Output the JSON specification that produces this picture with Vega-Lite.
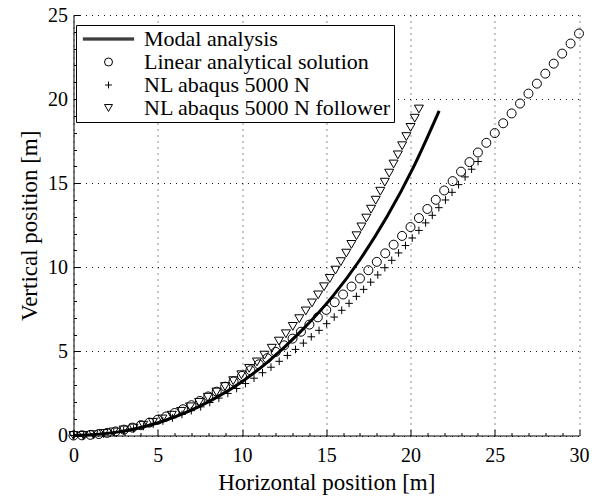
{
  "$schema": "https://vega.github.io/schema/vega-lite/v6.json",
  "width": 505.5,
  "height": 420.5,
  "autosize": {"type": "none"},
  "padding": {"left": 73.5, "top": 15, "right": 20, "bottom": 62.5},
  "background": "white",
  "config": {"view": {"stroke": null}, "font": "Liberation Serif"},
  "datasets": {
    "modal": [
      {"x": 0, "y": 0}, {"x": 2.6, "y": 0.2}, {"x": 5.3, "y": 0.85}, {"x": 8.2, "y": 2.1},
      {"x": 10, "y": 3.2}, {"x": 11.5, "y": 4.35}, {"x": 13.4, "y": 6.1}, {"x": 15.4, "y": 8.3},
      {"x": 17.0, "y": 10.45}, {"x": 18.6, "y": 13.0}, {"x": 20.2, "y": 16.0}, {"x": 21.7, "y": 19.3}
    ],
    "pts": [
      {"s": "Linear analytical solution", "x": 0, "y": 0},
      {"s": "Linear analytical solution", "x": 0.5, "y": 0.01},
      {"s": "Linear analytical solution", "x": 1, "y": 0.039},
      {"s": "Linear analytical solution", "x": 1.5, "y": 0.088},
      {"s": "Linear analytical solution", "x": 2, "y": 0.156},
      {"s": "Linear analytical solution", "x": 2.5, "y": 0.242},
      {"s": "Linear analytical solution", "x": 3, "y": 0.347},
      {"s": "Linear analytical solution", "x": 3.5, "y": 0.469},
      {"s": "Linear analytical solution", "x": 4, "y": 0.609},
      {"s": "Linear analytical solution", "x": 4.5, "y": 0.766},
      {"s": "Linear analytical solution", "x": 5, "y": 0.941},
      {"s": "Linear analytical solution", "x": 5.5, "y": 1.131},
      {"s": "Linear analytical solution", "x": 6, "y": 1.338},
      {"s": "Linear analytical solution", "x": 6.5, "y": 1.561},
      {"s": "Linear analytical solution", "x": 7, "y": 1.8},
      {"s": "Linear analytical solution", "x": 7.5, "y": 2.054},
      {"s": "Linear analytical solution", "x": 8, "y": 2.323},
      {"s": "Linear analytical solution", "x": 8.5, "y": 2.606},
      {"s": "Linear analytical solution", "x": 9, "y": 2.904},
      {"s": "Linear analytical solution", "x": 9.5, "y": 3.216},
      {"s": "Linear analytical solution", "x": 10, "y": 3.541},
      {"s": "Linear analytical solution", "x": 10.5, "y": 3.879},
      {"s": "Linear analytical solution", "x": 11, "y": 4.231},
      {"s": "Linear analytical solution", "x": 11.5, "y": 4.595},
      {"s": "Linear analytical solution", "x": 12, "y": 4.971},
      {"s": "Linear analytical solution", "x": 12.5, "y": 5.359},
      {"s": "Linear analytical solution", "x": 13, "y": 5.759},
      {"s": "Linear analytical solution", "x": 13.5, "y": 6.171},
      {"s": "Linear analytical solution", "x": 14, "y": 6.593},
      {"s": "Linear analytical solution", "x": 14.5, "y": 7.026},
      {"s": "Linear analytical solution", "x": 15, "y": 7.469},
      {"s": "Linear analytical solution", "x": 15.5, "y": 7.922},
      {"s": "Linear analytical solution", "x": 16, "y": 8.384},
      {"s": "Linear analytical solution", "x": 16.5, "y": 8.856},
      {"s": "Linear analytical solution", "x": 17, "y": 9.337},
      {"s": "Linear analytical solution", "x": 17.5, "y": 9.827},
      {"s": "Linear analytical solution", "x": 18, "y": 10.325},
      {"s": "Linear analytical solution", "x": 18.5, "y": 10.831},
      {"s": "Linear analytical solution", "x": 19, "y": 11.344},
      {"s": "Linear analytical solution", "x": 19.5, "y": 11.865},
      {"s": "Linear analytical solution", "x": 20, "y": 12.393},
      {"s": "Linear analytical solution", "x": 20.5, "y": 12.927},
      {"s": "Linear analytical solution", "x": 21, "y": 13.468},
      {"s": "Linear analytical solution", "x": 21.5, "y": 14.014},
      {"s": "Linear analytical solution", "x": 22, "y": 14.567},
      {"s": "Linear analytical solution", "x": 22.5, "y": 15.124},
      {"s": "Linear analytical solution", "x": 23, "y": 15.687},
      {"s": "Linear analytical solution", "x": 23.5, "y": 16.254},
      {"s": "Linear analytical solution", "x": 24, "y": 16.826},
      {"s": "Linear analytical solution", "x": 24.5, "y": 17.401},
      {"s": "Linear analytical solution", "x": 25, "y": 17.98},
      {"s": "Linear analytical solution", "x": 25.5, "y": 18.563},
      {"s": "Linear analytical solution", "x": 26, "y": 19.148},
      {"s": "Linear analytical solution", "x": 26.5, "y": 19.736},
      {"s": "Linear analytical solution", "x": 27, "y": 20.327},
      {"s": "Linear analytical solution", "x": 27.5, "y": 20.919},
      {"s": "Linear analytical solution", "x": 28, "y": 21.514},
      {"s": "Linear analytical solution", "x": 28.5, "y": 22.109},
      {"s": "Linear analytical solution", "x": 29, "y": 22.705},
      {"s": "Linear analytical solution", "x": 29.5, "y": 23.303},
      {"s": "Linear analytical solution", "x": 30, "y": 23.9},
      {"s": "NL abaqus 5000 N", "x": 0, "y": 0},
      {"s": "NL abaqus 5000 N", "x": 0.6, "y": 0.011},
      {"s": "NL abaqus 5000 N", "x": 1.199, "y": 0.046},
      {"s": "NL abaqus 5000 N", "x": 1.797, "y": 0.103},
      {"s": "NL abaqus 5000 N", "x": 2.389, "y": 0.187},
      {"s": "NL abaqus 5000 N", "x": 2.979, "y": 0.284},
      {"s": "NL abaqus 5000 N", "x": 3.567, "y": 0.393},
      {"s": "NL abaqus 5000 N", "x": 4.149, "y": 0.537},
      {"s": "NL abaqus 5000 N", "x": 4.731, "y": 0.68},
      {"s": "NL abaqus 5000 N", "x": 5.303, "y": 0.862},
      {"s": "NL abaqus 5000 N", "x": 5.872, "y": 1.048},
      {"s": "NL abaqus 5000 N", "x": 6.436, "y": 1.253},
      {"s": "NL abaqus 5000 N", "x": 6.992, "y": 1.477},
      {"s": "NL abaqus 5000 N", "x": 7.548, "y": 1.702},
      {"s": "NL abaqus 5000 N", "x": 8.088, "y": 1.963},
      {"s": "NL abaqus 5000 N", "x": 8.627, "y": 2.224},
      {"s": "NL abaqus 5000 N", "x": 9.159, "y": 2.501},
      {"s": "NL abaqus 5000 N", "x": 9.682, "y": 2.794},
      {"s": "NL abaqus 5000 N", "x": 10.205, "y": 3.088},
      {"s": "NL abaqus 5000 N", "x": 10.713, "y": 3.407},
      {"s": "NL abaqus 5000 N", "x": 11.218, "y": 3.732},
      {"s": "NL abaqus 5000 N", "x": 11.72, "y": 4.059},
      {"s": "NL abaqus 5000 N", "x": 12.207, "y": 4.41},
      {"s": "NL abaqus 5000 N", "x": 12.693, "y": 4.76},
      {"s": "NL abaqus 5000 N", "x": 13.174, "y": 5.118},
      {"s": "NL abaqus 5000 N", "x": 13.642, "y": 5.493},
      {"s": "NL abaqus 5000 N", "x": 14.111, "y": 5.869},
      {"s": "NL abaqus 5000 N", "x": 14.572, "y": 6.251},
      {"s": "NL abaqus 5000 N", "x": 15.023, "y": 6.647},
      {"s": "NL abaqus 5000 N", "x": 15.473, "y": 7.043},
      {"s": "NL abaqus 5000 N", "x": 15.918, "y": 7.443},
      {"s": "NL abaqus 5000 N", "x": 16.353, "y": 7.858},
      {"s": "NL abaqus 5000 N", "x": 16.788, "y": 8.273},
      {"s": "NL abaqus 5000 N", "x": 17.219, "y": 8.688},
      {"s": "NL abaqus 5000 N", "x": 17.638, "y": 9.117},
      {"s": "NL abaqus 5000 N", "x": 18.058, "y": 9.546},
      {"s": "NL abaqus 5000 N", "x": 18.478, "y": 9.975},
      {"s": "NL abaqus 5000 N", "x": 18.887, "y": 10.415},
      {"s": "NL abaqus 5000 N", "x": 19.293, "y": 10.855},
      {"s": "NL abaqus 5000 N", "x": 19.701, "y": 11.296},
      {"s": "NL abaqus 5000 N", "x": 20.103, "y": 11.742},
      {"s": "NL abaqus 5000 N", "x": 20.499, "y": 12.191},
      {"s": "NL abaqus 5000 N", "x": 20.897, "y": 12.641},
      {"s": "NL abaqus 5000 N", "x": 21.293, "y": 13.091},
      {"s": "NL abaqus 5000 N", "x": 21.683, "y": 13.546},
      {"s": "NL abaqus 5000 N", "x": 22.074, "y": 14.003},
      {"s": "NL abaqus 5000 N", "x": 22.464, "y": 14.458},
      {"s": "NL abaqus 5000 N", "x": 22.852, "y": 14.915},
      {"s": "NL abaqus 5000 N", "x": 23.239, "y": 15.374},
      {"s": "NL abaqus 5000 N", "x": 23.626, "y": 15.832},
      {"s": "NL abaqus 5000 N", "x": 24.01, "y": 16.288},
      {"s": "NL abaqus 5000 N follower", "x": 0, "y": 0},
      {"s": "NL abaqus 5000 N follower", "x": 0.592, "y": 0.01},
      {"s": "NL abaqus 5000 N follower", "x": 1.19, "y": 0.05},
      {"s": "NL abaqus 5000 N follower", "x": 1.789, "y": 0.12},
      {"s": "NL abaqus 5000 N follower", "x": 2.383, "y": 0.21},
      {"s": "NL abaqus 5000 N follower", "x": 2.971, "y": 0.327},
      {"s": "NL abaqus 5000 N follower", "x": 3.561, "y": 0.444},
      {"s": "NL abaqus 5000 N follower", "x": 4.135, "y": 0.613},
      {"s": "NL abaqus 5000 N follower", "x": 4.71, "y": 0.783},
      {"s": "NL abaqus 5000 N follower", "x": 5.274, "y": 0.983},
      {"s": "NL abaqus 5000 N follower", "x": 5.832, "y": 1.207},
      {"s": "NL abaqus 5000 N follower", "x": 6.386, "y": 1.437},
      {"s": "NL abaqus 5000 N follower", "x": 6.921, "y": 1.705},
      {"s": "NL abaqus 5000 N follower", "x": 7.457, "y": 1.972},
      {"s": "NL abaqus 5000 N follower", "x": 7.974, "y": 2.274},
      {"s": "NL abaqus 5000 N follower", "x": 8.487, "y": 2.585},
      {"s": "NL abaqus 5000 N follower", "x": 8.989, "y": 2.912},
      {"s": "NL abaqus 5000 N follower", "x": 9.478, "y": 3.26},
      {"s": "NL abaqus 5000 N follower", "x": 9.964, "y": 3.612},
      {"s": "NL abaqus 5000 N follower", "x": 10.426, "y": 3.993},
      {"s": "NL abaqus 5000 N follower", "x": 10.888, "y": 4.373},
      {"s": "NL abaqus 5000 N follower", "x": 11.331, "y": 4.778},
      {"s": "NL abaqus 5000 N follower", "x": 11.768, "y": 5.189},
      {"s": "NL abaqus 5000 N follower", "x": 12.194, "y": 5.612},
      {"s": "NL abaqus 5000 N follower", "x": 12.605, "y": 6.048},
      {"s": "NL abaqus 5000 N follower", "x": 13.013, "y": 6.487},
      {"s": "NL abaqus 5000 N follower", "x": 13.4, "y": 6.946},
      {"s": "NL abaqus 5000 N follower", "x": 13.787, "y": 7.405},
      {"s": "NL abaqus 5000 N follower", "x": 14.154, "y": 7.88},
      {"s": "NL abaqus 5000 N follower", "x": 14.518, "y": 8.357},
      {"s": "NL abaqus 5000 N follower", "x": 14.868, "y": 8.843},
      {"s": "NL abaqus 5000 N follower", "x": 15.21, "y": 9.336},
      {"s": "NL abaqus 5000 N follower", "x": 15.546, "y": 9.833},
      {"s": "NL abaqus 5000 N follower", "x": 15.867, "y": 10.337},
      {"s": "NL abaqus 5000 N follower", "x": 16.189, "y": 10.842},
      {"s": "NL abaqus 5000 N follower", "x": 16.493, "y": 11.36},
      {"s": "NL abaqus 5000 N follower", "x": 16.796, "y": 11.877},
      {"s": "NL abaqus 5000 N follower", "x": 17.089, "y": 12.401},
      {"s": "NL abaqus 5000 N follower", "x": 17.378, "y": 12.927},
      {"s": "NL abaqus 5000 N follower", "x": 17.66, "y": 13.456},
      {"s": "NL abaqus 5000 N follower", "x": 17.935, "y": 13.989},
      {"s": "NL abaqus 5000 N follower", "x": 18.209, "y": 14.522},
      {"s": "NL abaqus 5000 N follower", "x": 18.473, "y": 15.061},
      {"s": "NL abaqus 5000 N follower", "x": 18.737, "y": 15.599},
      {"s": "NL abaqus 5000 N follower", "x": 18.995, "y": 16.141},
      {"s": "NL abaqus 5000 N follower", "x": 19.251, "y": 16.684},
      {"s": "NL abaqus 5000 N follower", "x": 19.504, "y": 17.228},
      {"s": "NL abaqus 5000 N follower", "x": 19.754, "y": 17.772},
      {"s": "NL abaqus 5000 N follower", "x": 20.004, "y": 18.318},
      {"s": "NL abaqus 5000 N follower", "x": 20.252, "y": 18.864},
      {"s": "NL abaqus 5000 N follower", "x": 20.5, "y": 19.41}
    ],
    "ticks": [
      {"x": 0, "y": 0}, {"x": 30, "y": 25}
    ]
  },
  "resolve": {"axis": {"x": "independent", "y": "independent"}},
  "layer": [
    {
      "data": {"name": "ticks"},
      "mark": {"type": "point", "opacity": 0},
      "encoding": {
        "x": {"field": "x", "type": "quantitative", "scale": {"domain": [0, 30], "nice": false, "zero": false},
          "axis": {"orient": "bottom", "values": [0,1,2,3,4,6,7,8,9,11,12,13,14,16,17,18,19,21,22,23,24,26,27,28,29], "labels": false, "domain": false, "grid": false, "tickSize": -3, "tickColor": "black", "tickWidth": 1, "title": null}},
        "y": {"field": "y", "type": "quantitative", "scale": {"domain": [0, 25], "nice": false, "zero": false},
          "axis": {"orient": "left", "values": [1,2,3,4,6,7,8,9,11,12,13,14,16,17,18,19,21,22,23,24], "labels": false, "domain": false, "grid": false, "tickSize": -3, "tickColor": "black", "tickWidth": 1, "title": null}}
      }
    },
    {
      "data": {"name": "pts"},
      "mark": {"type": "point", "filled": false, "color": "black", "strokeWidth": 1, "size": 81, "opacity": 1},
      "encoding": {
        "x": {"field": "x", "type": "quantitative", "axis": null},
        "y": {"field": "y", "type": "quantitative", "axis": null},
        "shape": {
          "field": "s", "type": "nominal",
          "scale": {
            "domain": ["Modal analysis", "Linear analytical solution", "NL abaqus 5000 N", "NL abaqus 5000 N follower"],
            "range": ["M-6.4,-0.25H6.4M-6.4,0H6.4M-6.4,0.25H6.4", "circle", "M-0.85,0H0.85M0,-0.85V0.85", "triangle-down"]
          },
          "legend": {
            "title": null, "orient": "none", "legendX": 2.5, "legendY": 10,
            "fillColor": "white", "strokeColor": "black", "padding": 3, "cornerRadius": 0,
            "symbolSize": 64, "symbolStrokeColor": "black", "symbolStrokeWidth": 1, "symbolFillColor": "transparent",
            "symbolOffset": 18.5, "labelOffset": 24.5, "rowPadding": 1,
            "labelFont": "Liberation Serif", "labelFontSize": 22, "labelColor": "black", "labelLimit": 400
          }
        }
      }
    },
    {
      "data": {"name": "modal"},
      "mark": {"type": "line", "color": "black", "strokeWidth": 3, "interpolate": "monotone"},
      "encoding": {
        "x": {"field": "x", "type": "quantitative",
          "axis": {"orient": "bottom", "title": "Horizontal position [m]", "values": [0,5,10,15,20,25,30],
            "grid": true, "gridColor": "black", "gridDash": [1, 5], "gridWidth": 1, "gridOpacity": 0.9,
            "domainColor": "black", "domainWidth": 1, "tickColor": "black", "tickSize": -6, "tickWidth": 1,
            "labelPadding": 16, "labelFont": "Liberation Serif", "labelFontSize": 20, "labelColor": "black", "labelFlush": false,
            "titleFont": "Liberation Serif", "titleFontSize": 23, "titleFontWeight": "normal", "titleColor": "black", "titlePadding": 6}},
        "y": {"field": "y", "type": "quantitative",
          "axis": {"orient": "left", "title": "Vertical position [m]", "values": [0,5,10,15,20,25],
            "grid": true, "gridColor": "black", "gridDash": [1, 5], "gridWidth": 1, "gridOpacity": 0.9,
            "domainColor": "black", "domainWidth": 1, "tickColor": "black", "tickSize": -6, "tickWidth": 1,
            "labelPadding": 12, "labelFont": "Liberation Serif", "labelFontSize": 20, "labelColor": "black", "labelFlush": false,
            "titleFont": "Liberation Serif", "titleFontSize": 23, "titleFontWeight": "normal", "titleColor": "black", "titlePadding": 6}}
      }
    }
  ]
}
